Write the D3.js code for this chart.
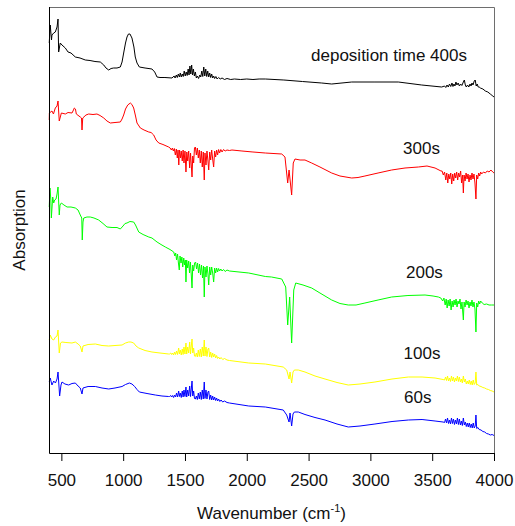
<!DOCTYPE html>
<html>
<head>
<meta charset="utf-8">
<script src="https://cdn.jsdelivr.net/npm/d3@7"></script>
<style>
  body { margin: 0; background: #fff; }
  text { font-family: "Liberation Sans", Arial, sans-serif; }
</style>
</head>
<body>
<div id="chart"></div>
<script>
// Spectra: [wavenumber, absorption (a.u., traces already offset)]
const black400 = [
  [402,4.10],[410,4.28],[420,4.13],[424,4.18],[438,4.20],[451,4.21],[465,4.26],[473,4.34],[478,4.01],[491,4.10],
  [505,4.08],[532,4.05],[554,4.01],[578,4.00],[613,3.96],[651,3.95],[694,3.93],[732,3.925],[772,3.915],[815,3.91],
  [843,3.88],[861,3.85],[883,3.83],[902,3.845],[923,3.85],[950,3.85],[977,3.86],[991,3.91],[1004,4.00],[1019,4.10],
  [1031,4.16],[1043,4.19],[1055,4.19],[1071,4.15],[1087,4.06],[1098,3.96],[1112,3.90],[1131,3.86],[1177,3.85],
  [1233,3.84],[1255,3.81],[1274,3.76],[1298,3.755],[1338,3.755],[1395,3.75],
  [1412,3.77],[1420,3.75],[1430,3.78],[1438,3.755],[1446,3.79],[1455,3.76],[1462,3.80],[1470,3.76],[1478,3.79],
  [1486,3.765],[1494,3.82],[1502,3.77],[1510,3.81],[1518,3.775],[1526,3.84],[1533,3.78],[1540,3.87],[1547,3.79],
  [1554,3.88],[1561,3.78],[1568,3.84],[1576,3.77],[1584,3.81],[1592,3.75],[1600,3.77],[1610,3.745],[1620,3.78],
  [1628,3.76],[1636,3.82],[1644,3.765],[1652,3.86],[1660,3.77],[1668,3.84],[1676,3.765],[1684,3.82],[1692,3.76],
  [1700,3.80],[1708,3.755],[1716,3.79],[1724,3.75],[1732,3.77],[1740,3.745],[1750,3.765],[1760,3.74],[1772,3.755],
  [1785,3.74],[1800,3.75],[1820,3.735],[1840,3.745],[1870,3.735],[1900,3.74],[1950,3.735],[2000,3.74],[2050,3.735],
  [2100,3.74],[2150,3.74],[2300,3.73],[2450,3.715],[2606,3.70],[2687,3.69],[2849,3.71],[3037,3.71],[3226,3.71],
  [3415,3.68],[3577,3.66],
  [3600,3.67],[3610,3.655],[3620,3.68],[3630,3.66],[3640,3.69],[3650,3.665],[3660,3.70],[3668,3.665],[3676,3.69],
  [3684,3.67],[3692,3.71],[3700,3.68],[3710,3.70],[3720,3.67],[3730,3.69],[3740,3.675],[3752,3.71],[3760,3.73],
  [3768,3.68],[3776,3.66],[3786,3.68],[3796,3.66],[3806,3.69],[3814,3.67],[3822,3.70],[3830,3.68],[3840,3.72],
  [3848,3.73],[3856,3.67],[3864,3.69],[3872,3.66],[3880,3.66],[3890,3.65],[3910,3.64],[3930,3.62],[3950,3.61],
  [3970,3.59],[3985,3.575],[4000,3.56]
];

const red300 = [
  [402,3.33],[403,3.40],[424,3.42],[436,3.39],[451,3.45],[465,3.47],[473,3.52],[483,3.32],[500,3.40],[532,3.39],
  [554,3.405],[586,3.40],[598,3.43],[605,3.45],[614,3.44],[621,3.39],[653,3.36],[663,3.35],[667,3.23],[673,3.35],
  [699,3.38],[721,3.39],[756,3.385],[788,3.39],[813,3.375],[843,3.35],[869,3.32],[896,3.30],[934,3.305],[977,3.31],
  [991,3.34],[1004,3.38],[1019,3.44],[1037,3.48],[1058,3.50],[1071,3.485],[1085,3.45],[1100,3.37],[1112,3.30],
  [1139,3.25],[1169,3.23],[1207,3.21],[1226,3.205],[1247,3.18],[1266,3.13],[1288,3.10],[1322,3.085],[1368,3.06],
  [1380,3.05],[1390,3.03],[1398,3.05],[1406,3.02],[1414,3.045],[1422,2.98],[1430,3.04],[1438,2.95],[1444,3.03],
  [1450,2.88],[1456,3.03],[1464,2.95],[1470,3.02],[1478,2.92],[1485,3.03],[1492,2.90],[1500,3.02],[1508,2.81],
  [1515,3.01],[1522,2.92],[1530,3.02],[1538,2.85],[1545,3.00],[1551,2.88],[1557,2.76],[1563,2.97],[1570,2.90],
  [1577,3.05],[1584,3.06],[1592,2.98],[1600,3.05],[1608,2.95],[1616,3.03],[1624,2.90],[1632,3.02],[1640,2.86],
  [1648,3.01],[1656,2.73],[1662,3.00],[1670,2.88],[1678,3.02],[1686,2.92],[1692,2.83],[1700,3.01],[1708,2.93],
  [1716,3.03],[1724,2.94],[1732,2.86],[1740,3.02],[1748,2.96],[1756,3.03],[1764,2.98],[1772,3.035],[1780,3.00],
  [1790,3.035],[1800,3.01],[1812,3.035],[1825,3.02],[1840,3.03],[1860,3.025],[1880,3.03],[1961,3.02],[2050,3.01],
  [2150,3.00],[2283,2.99],[2309,2.96],[2331,2.70],[2342,2.83],[2363,2.58],[2376,2.90],[2390,2.94],[2431,2.93],
  [2471,2.93],[2525,2.90],[2592,2.86],[2687,2.80],[2754,2.77],[2849,2.75],[2900,2.755],[2956,2.77],[3062,2.80],
  [3172,2.83],[3280,2.85],[3388,2.86],[3458,2.87],[3523,2.85],[3571,2.82],
  [3580,2.82],[3590,2.78],[3600,2.81],[3610,2.73],[3618,2.80],[3626,2.70],[3634,2.79],[3642,2.74],[3650,2.80],
  [3658,2.69],[3666,2.79],[3674,2.72],[3682,2.80],[3690,2.75],[3698,2.81],[3706,2.73],[3714,2.80],[3722,2.76],
  [3730,2.82],[3738,2.70],[3746,2.78],[3752,2.60],[3758,2.78],[3766,2.72],[3774,2.80],[3782,2.74],[3790,2.79],
  [3798,2.71],[3806,2.78],[3814,2.73],[3822,2.80],[3830,2.74],[3838,2.79],[3846,2.70],[3854,2.54],[3860,2.78],
  [3868,2.74],[3876,2.80],[3884,2.77],[3892,2.81],[3900,2.79],[3915,2.81],[3930,2.80],[3945,2.82],[3960,2.81],
  [3975,2.83],[3990,2.81],[4000,2.80]
];

const green200 = [
  [402,2.46],[408,2.65],[415,2.53],[419,2.35],[430,2.56],[438,2.50],[446,2.53],[457,2.54],[465,2.59],[473,2.66],
  [483,2.38],[489,2.48],[500,2.50],[521,2.48],[546,2.46],[578,2.46],[613,2.45],[635,2.43],[653,2.38],[665,2.35],
  [669,2.13],[675,2.31],[681,2.35],[707,2.36],[734,2.36],[764,2.35],[802,2.33],[837,2.295],[869,2.26],[910,2.255],
  [950,2.255],[977,2.24],[999,2.27],[1015,2.295],[1031,2.30],[1055,2.315],[1085,2.31],[1100,2.28],[1126,2.21],
  [1161,2.185],[1207,2.16],[1233,2.15],[1274,2.11],[1306,2.085],[1341,2.06],[1379,2.035],
  [1409,2.01],[1418,1.97],[1425,2.00],[1432,1.93],[1440,1.99],[1447,1.90],[1454,1.83],[1460,1.97],[1468,1.90],
  [1475,1.96],[1482,1.86],[1490,1.95],[1497,1.88],[1503,1.93],[1508,1.71],[1514,1.93],[1522,1.85],[1530,1.92],
  [1537,1.80],[1544,1.91],[1551,1.78],[1557,1.65],[1563,1.88],[1570,1.82],[1578,1.90],[1586,1.91],[1594,1.84],
  [1602,1.90],[1610,1.80],[1618,1.89],[1626,1.78],[1634,1.88],[1642,1.75],[1650,1.87],[1656,1.56],[1662,1.86],
  [1670,1.76],[1678,1.87],[1686,1.79],[1692,1.68],[1700,1.86],[1708,1.78],[1716,1.86],[1724,1.80],[1732,1.71],
  [1740,1.85],[1748,1.80],[1756,1.85],[1764,1.81],[1772,1.845],[1780,1.82],[1790,1.84],[1800,1.82],[1812,1.835],
  [1825,1.815],[1840,1.83],[1860,1.82],[2016,1.80],[2150,1.765],[2200,1.76],[2283,1.74],[2315,1.66],[2331,1.28],
  [2347,1.56],[2363,1.10],[2380,1.63],[2396,1.70],[2455,1.68],[2525,1.65],[2592,1.60],[2687,1.53],[2754,1.495],
  [2821,1.48],[2884,1.48],[2956,1.50],[3062,1.53],[3172,1.56],[3304,1.575],[3442,1.58],[3507,1.57],[3550,1.56],
  [3570,1.55],[3585,1.52],[3595,1.55],[3605,1.48],[3613,1.54],[3621,1.45],[3629,1.53],[3637,1.47],[3645,1.54],
  [3653,1.43],[3661,1.52],[3669,1.46],[3677,1.53],[3685,1.48],[3693,1.54],[3701,1.46],[3709,1.52],[3717,1.49],
  [3725,1.54],[3733,1.44],[3741,1.51],[3752,1.33],[3758,1.51],[3766,1.46],[3774,1.53],[3782,1.48],[3790,1.52],
  [3798,1.45],[3806,1.51],[3814,1.47],[3822,1.53],[3830,1.46],[3838,1.51],[3846,1.44],[3854,1.21],[3860,1.50],
  [3868,1.46],[3876,1.52],[3884,1.49],[3892,1.52],[3905,1.50],[3920,1.485],[3940,1.49],[3960,1.48],[3980,1.48],
  [4000,1.48]
];

const yellow100 = [
  [402,1.13],[410,1.18],[424,1.14],[438,1.13],[452,1.16],[465,1.17],[473,1.23],[483,1.00],[493,1.10],[505,1.11],
  [537,1.105],[586,1.10],[613,1.11],[635,1.09],[653,1.07],[667,1.01],[675,1.07],[716,1.085],[775,1.09],[829,1.075],
  [883,1.07],[934,1.075],[991,1.08],[1019,1.10],[1045,1.11],[1063,1.11],[1085,1.10],[1104,1.07],[1126,1.05],
  [1177,1.025],[1233,1.01],[1298,1.00],[1368,0.99],
  [1375,0.99],[1385,1.00],[1392,0.985],[1400,1.00],[1408,0.98],[1416,1.01],[1424,0.985],[1432,1.02],[1440,0.985],
  [1449,1.05],[1455,0.99],[1462,1.03],[1470,0.98],[1478,1.04],[1485,0.985],[1492,1.06],[1500,0.99],[1508,1.10],
  [1514,0.99],[1522,1.06],[1530,1.00],[1538,1.11],[1545,0.99],[1551,1.07],[1557,1.14],[1563,1.00],[1570,1.05],
  [1577,0.97],[1584,0.965],[1592,1.00],[1600,0.96],[1608,1.03],[1616,0.965],[1624,1.04],[1632,0.96],[1640,1.06],
  [1648,0.97],[1656,1.13],[1662,0.97],[1670,1.06],[1678,0.965],[1686,1.04],[1692,1.05],[1700,0.96],[1708,1.01],
  [1716,0.955],[1724,1.00],[1732,0.96],[1740,0.99],[1748,0.95],[1756,0.975],[1764,0.945],[1772,0.96],[1782,0.94],
  [1792,0.955],[1805,0.935],[1820,0.945],[1840,0.93],[1860,0.925],[2016,0.90],[2150,0.89],[2295,0.86],[2323,0.83],
  [2342,0.74],[2350,0.81],[2363,0.70],[2374,0.81],[2385,0.83],[2417,0.83],[2471,0.81],[2552,0.77],[2633,0.74],
  [2730,0.705],[2821,0.68],[2916,0.69],[3037,0.71],[3175,0.74],[3307,0.76],[3418,0.76],[3523,0.75],[3588,0.735],
  [3600,0.73],[3608,0.76],[3616,0.725],[3624,0.77],[3632,0.72],[3640,0.75],[3648,0.715],[3656,0.77],[3664,0.72],
  [3672,0.76],[3680,0.71],[3688,0.75],[3696,0.72],[3704,0.77],[3712,0.715],[3720,0.76],[3728,0.71],[3736,0.74],
  [3744,0.70],[3752,0.77],[3760,0.71],[3768,0.74],[3776,0.69],[3784,0.72],[3792,0.69],[3800,0.73],[3808,0.685],
  [3816,0.72],[3824,0.68],[3832,0.73],[3840,0.685],[3848,0.70],[3854,0.81],[3860,0.68],[3870,0.685],[3880,0.67],
  [3895,0.665],[3910,0.655],[3925,0.65],[3940,0.64],[3955,0.635],[3970,0.625],[3985,0.62],[4000,0.61]
];

const blue60 = [
  [402,0.71],[410,0.75],[424,0.68],[438,0.72],[452,0.70],[465,0.74],[473,0.81],[486,0.57],[497,0.68],[505,0.71],
  [529,0.69],[559,0.68],[586,0.695],[613,0.70],[635,0.67],[653,0.65],[667,0.59],[675,0.65],[716,0.665],[775,0.665],
  [829,0.65],[883,0.64],[934,0.65],[991,0.665],[1019,0.685],[1050,0.70],[1071,0.69],[1093,0.665],[1112,0.635],
  [1131,0.61],[1193,0.595],[1260,0.58],[1314,0.57],[1368,0.565],
  [1375,0.565],[1385,0.575],[1392,0.56],[1400,0.575],[1408,0.555],[1416,0.58],[1424,0.56],[1432,0.60],[1440,0.56],
  [1449,0.62],[1455,0.565],[1462,0.60],[1470,0.555],[1478,0.62],[1485,0.56],[1492,0.63],[1500,0.565],[1508,0.66],
  [1514,0.56],[1522,0.63],[1530,0.57],[1538,0.67],[1545,0.565],[1551,0.64],[1557,0.72],[1563,0.57],[1570,0.62],
  [1577,0.545],[1584,0.54],[1592,0.57],[1600,0.535],[1608,0.60],[1616,0.54],[1624,0.61],[1632,0.535],[1640,0.63],
  [1648,0.54],[1656,0.71],[1662,0.545],[1670,0.63],[1678,0.54],[1686,0.61],[1692,0.62],[1700,0.535],[1708,0.58],
  [1716,0.53],[1724,0.57],[1732,0.53],[1740,0.56],[1748,0.525],[1756,0.55],[1764,0.52],[1772,0.54],[1782,0.515],
  [1792,0.53],[1805,0.51],[1820,0.52],[1840,0.505],[1860,0.50],[2016,0.47],[2150,0.46],[2295,0.43],[2323,0.38],
  [2342,0.31],[2350,0.40],[2363,0.27],[2374,0.39],[2385,0.41],[2417,0.41],[2471,0.385],[2552,0.355],[2633,0.33],
  [2730,0.29],[2821,0.26],[2916,0.27],[3037,0.29],[3175,0.315],[3307,0.33],[3418,0.335],[3523,0.32],[3588,0.31],
  [3600,0.305],[3608,0.34],[3616,0.30],[3624,0.35],[3632,0.295],[3640,0.33],[3648,0.29],[3656,0.35],[3664,0.295],
  [3672,0.34],[3680,0.285],[3688,0.33],[3696,0.29],[3704,0.35],[3712,0.285],[3720,0.34],[3728,0.28],[3736,0.32],
  [3744,0.275],[3752,0.35],[3760,0.28],[3768,0.31],[3776,0.265],[3784,0.30],[3792,0.26],[3800,0.30],[3808,0.255],
  [3816,0.29],[3824,0.25],[3832,0.30],[3840,0.25],[3848,0.27],[3854,0.38],[3860,0.245],[3870,0.255],[3880,0.235],
  [3895,0.23],[3910,0.215],[3925,0.21],[3940,0.195],[3955,0.19],[3970,0.18],[3985,0.185],[4000,0.175]
];

const seriesNames = ["deposition time 400s", "300s", "200s", "100s", "60s"];
const seriesData = [black400, red300, green200, yellow100, blue60];
const seriesColors = ["#000000", "#ff0000", "#00ff00", "#ffff00", "#0000ff"];
const xTicks = [500, 1000, 1500, 2000, 2500, 3000, 3500, 4000];

var margin = {top: 7, right: 21, bottom: 73, left: 49},
    fullWidth = 515,
    fullHeight = 526,
    width = fullWidth - margin.left - margin.right,
    height = fullHeight - margin.top - margin.bottom;

var svg = d3.select("#chart")
    .append("svg")
        .attr("width", fullWidth)
        .attr("height", fullHeight);

var g = svg.append("g")
    .attr("transform", `translate(${margin.left},${margin.top})`);

const x = d3.scaleLinear()
    .domain([400, 4000])
    .range([0, width]);

const y = d3.scaleLinear()
    .domain([0, 4.46])
    .range([height, 0]);

// top and right edges of the frame are grey
g.append("path")
    .attr("d", `M0.5,0.5H${width + 0.5}V${height}`)
    .attr("fill", "none")
    .attr("stroke", "#6e6e6e")
    .attr("stroke-width", 1);

const line = d3.line()
    .x(d => x(d[0]))
    .y(d => y(d[1]));

g.selectAll(".spectrum")
    .data(seriesData)
    .enter().append("path")
        .attr("class", "spectrum")
        .attr("fill", "none")
        .attr("stroke", (d, i) => seriesColors[i])
        .attr("stroke-width", 1)
        .attr("stroke-linejoin", "round")
        .attr("d", d => line(d));

// left axis line, no ticks
g.append("line")
    .attr("x1", 0.5).attr("x2", 0.5)
    .attr("y1", 0).attr("y2", height + 0.5)
    .attr("stroke", "#000");

var xAxis = g.append("g")
    .attr("transform", `translate(0,${height})`)
    .call(d3.axisBottom(x)
        .tickValues(xTicks)
        .tickSize(8)
        .tickSizeOuter(0)
        .tickPadding(13)
        .tickFormat(d3.format("d")));
xAxis.attr("font-size", 17).attr("font-family", '"Liberation Sans", Arial, sans-serif');
xAxis.selectAll("line").attr("stroke", "#000");
xAxis.select(".domain").attr("stroke", "#000");
xAxis.selectAll("text").attr("fill", "#111");

// axis titles
var xTitle = svg.append("text")
    .attr("x", margin.left + width / 2)
    .attr("y", 519)
    .attr("text-anchor", "middle")
    .attr("font-size", 17)
    .attr("fill", "#111");
xTitle.append("tspan").text("Wavenumber (cm");
xTitle.append("tspan").attr("dy", -7).attr("font-size", 11).text("-1");
xTitle.append("tspan").attr("dy", 7).text(")");

svg.append("text")
    .attr("transform", `translate(25,${margin.top + height / 2}) rotate(-90)`)
    .attr("text-anchor", "middle")
    .attr("font-size", 17)
    .attr("fill", "#111")
    .text("Absorption");

// trace labels, placed in data coordinates
const labelSpots = [[2520, 3.92], [3264, 2.995], [3288, 1.747], [3268, 0.94], [3272, 0.497]];
g.selectAll(".trace-label")
    .data(seriesNames)
    .enter().append("text")
        .attr("class", "trace-label")
        .attr("x", (d, i) => x(labelSpots[i][0]))
        .attr("y", (d, i) => y(labelSpots[i][1]))
        .attr("font-size", 17)
        .attr("fill", "#111")
        .text(d => d);
</script>
</body>
</html>
